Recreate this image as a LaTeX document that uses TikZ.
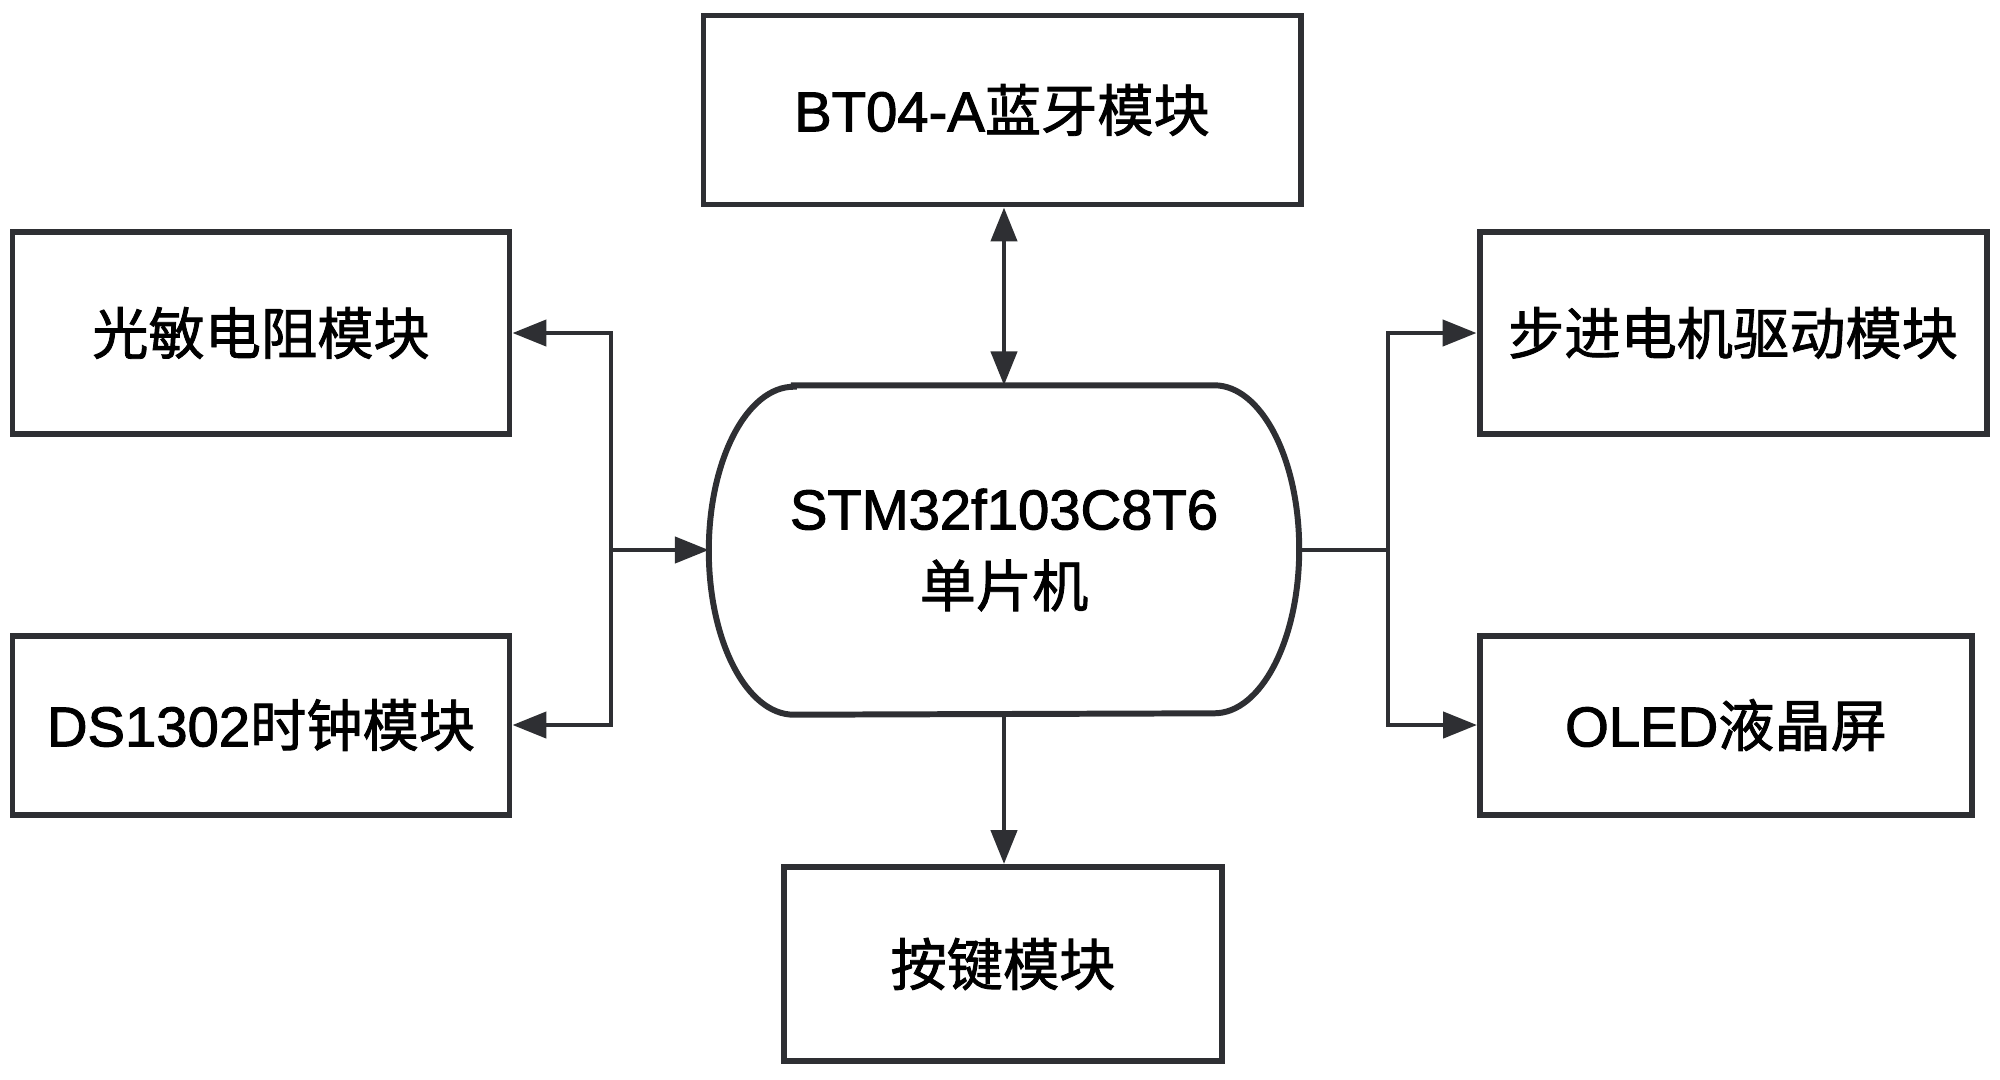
\documentclass[tikz,border=0pt]{standalone}
\usepackage{fontspec}
\setmainfont{Liberation Sans}[FakeBold=1.8,UprightFont=*,BoldFont=*]
\newfontfamily\cjk{Noto Sans CJK SC}[FakeBold=1.5,UprightFont=*,BoldFont=*]
\usetikzlibrary{arrows.meta}
\definecolor{ink}{HTML}{2E2F33}
\tikzset{
  boxline/.style={draw=ink, line width=1.7pt},
  modbox/.style={boxline, rectangle, inner sep=0pt, align=center, font=\fontsize{16}{22}\selectfont\bfseries},
  conn/.style={draw=ink, line width=1.3pt},
  tip/.style={-{Triangle[length=0.34cm,width=0.26cm]}},
}
\begin{document}
\begin{tikzpicture}[x=1cm,y=1cm]
\useasboundingbox (0,0) rectangle (20,-10.79);
\node[modbox, minimum width=5.97cm, minimum height=1.89cm] (bt) at (10.02,-1.10) {BT04-A{\cjk 蓝牙模块}};
\node[modbox, minimum width=4.97cm, minimum height=2.02cm] (gm) at (2.61,-3.33) {{\cjk 光敏电阻模块}};
\node[modbox, minimum width=4.97cm, minimum height=1.79cm] (ds) at (2.61,-7.25) {DS1302{\cjk 时钟模块}};
\node[modbox, minimum width=5.07cm, minimum height=2.02cm] (bj) at (17.33,-3.33) {{\cjk 步进电机驱动模块}};
\node[modbox, minimum width=4.92cm, minimum height=1.79cm] (oled) at (17.26,-7.25) {OLED{\cjk 液晶屏}};
\node[modbox, minimum width=4.38cm, minimum height=1.94cm] (aj) at (10.03,-9.64) {{\cjk 按键模块}};
\node[rectangle, inner sep=0pt, align=center, font=\fontsize{16}{22}\selectfont\bfseries, minimum width=5.89cm, minimum height=3.28cm] (mcu) at (10.04,-5.50) {STM32f103C8T6\\[0pt]{\cjk 单片机}};
\draw[boxline] ([xshift=0.85cm]mcu.north west) -- ([xshift=-0.85cm]mcu.north east)
  arc[start angle=90, end angle=-90, x radius=0.85cm, y radius=1.64cm]
  -- ([xshift=0.85cm]mcu.south west)
  arc[start angle=270, end angle=90, x radius=0.85cm, y radius=1.64cm] -- cycle;
% top bidirectional
\draw[conn, {Triangle[length=0.34cm,width=0.26cm]}-{Triangle[length=0.34cm,width=0.26cm]}] (bt.south -| mcu.north) -- (mcu.north);
% left bus
\coordinate (lb) at (6.11,-5.50);
\draw[conn, tip] (lb) -- (mcu.west);
\draw[conn, tip] (lb) |- (gm.east);
\draw[conn, tip] (lb) |- (ds.east);
% right bus
\coordinate (rb) at (13.88,-5.50);
\draw[conn] (mcu.east) -- (rb);
\draw[conn, tip] (rb) |- (bj.west);
\draw[conn, tip] (rb) |- (oled.west);
% bottom
\draw[conn, tip] (mcu.south) -- (mcu.south |- aj.north);
\end{tikzpicture}
\end{document}
